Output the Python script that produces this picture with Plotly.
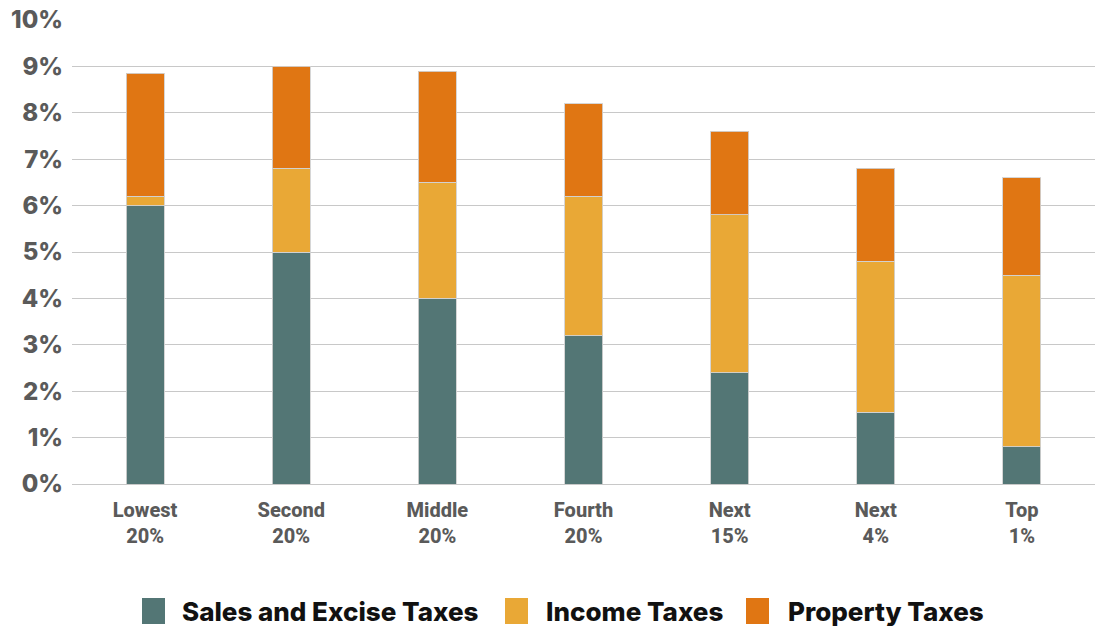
import plotly.graph_objects as go

# Income groups and the state/local tax shares (% of income) by tax type
groups = ["Lowest<br>20%", "Second<br>20%", "Middle<br>20%", "Fourth<br>20%",
          "Next<br>15%", "Next<br>4%", "Top<br>1%"]
sales_excise = [6.0, 5.0, 4.0, 3.2, 2.4, 1.55, 0.8]
income_tax = [0.2, 1.8, 2.5, 3.0, 3.4, 3.25, 3.7]
property_tax = [2.65, 2.2, 2.4, 2.0, 1.8, 2.0, 2.1]

series_names = ["Sales and Excise Taxes", "Income Taxes", "Property Taxes"]
series_values = [sales_excise, income_tax, property_tax]
series_colors = ["#537675", "#E9A836", "#E07613"]

W, H = 1100, 626
M = dict(l=72, r=5, t=20, b=142)


def px_to_paper_x(px):
    return (px - M["l"]) / (W - M["l"] - M["r"])


def px_to_paper_y(py):
    return (H - M["b"] - py) / (H - M["t"] - M["b"])


fig = go.Figure()
for name, vals, color in zip(series_names, series_values, series_colors):
    fig.add_trace(go.Bar(
        x=groups, y=vals, name=name, showlegend=False,
        marker=dict(color=color, line=dict(color="rgba(210,210,210,0.9)", width=1)),
    ))

# Legend row under the chart: tall colour swatch followed by a bold label
legend_items = [(142, 180), (505, 544), (746, 786)]
shapes, annotations = [], []
for (sw_x, txt_x), name, color in zip(legend_items, series_names, series_colors):
    shapes.append(dict(
        type="rect", xref="paper", yref="paper",
        x0=px_to_paper_x(sw_x), x1=px_to_paper_x(sw_x + 23),
        y0=px_to_paper_y(624), y1=px_to_paper_y(598),
        fillcolor=color, line=dict(width=0), layer="above",
    ))
    annotations.append(dict(
        text=name, xref="paper", yref="paper",
        x=px_to_paper_x(txt_x), y=px_to_paper_y(611),
        xanchor="left", yanchor="middle", showarrow=False,
        font=dict(family="Inter", size=26, color="#111111", weight=800),
    ))

fig.update_layout(
    barmode="stack",
    bargap=0.74,
    width=W, height=H,
    margin=M,
    plot_bgcolor="white", paper_bgcolor="white",
    shapes=shapes, annotations=annotations,
    xaxis=dict(
        showgrid=False, showline=False, ticks="", ticklabelstandoff=12,
        tickfont=dict(family="Roboto", size=20, color="#5A5A5A", weight=800),
    ),
    yaxis=dict(
        range=[0, 10], dtick=1, ticksuffix="%",
        showgrid=True, gridcolor="#C8C8C8", gridwidth=1.3,
        zeroline=True, zerolinecolor="#C8C8C8", zerolinewidth=1.3,
        ticks="", ticklabelstandoff=8,
        tickfont=dict(family="Inter", size=24, color="#5A5A5A", weight=800),
    ),
)

fig.write_html("out.html")
